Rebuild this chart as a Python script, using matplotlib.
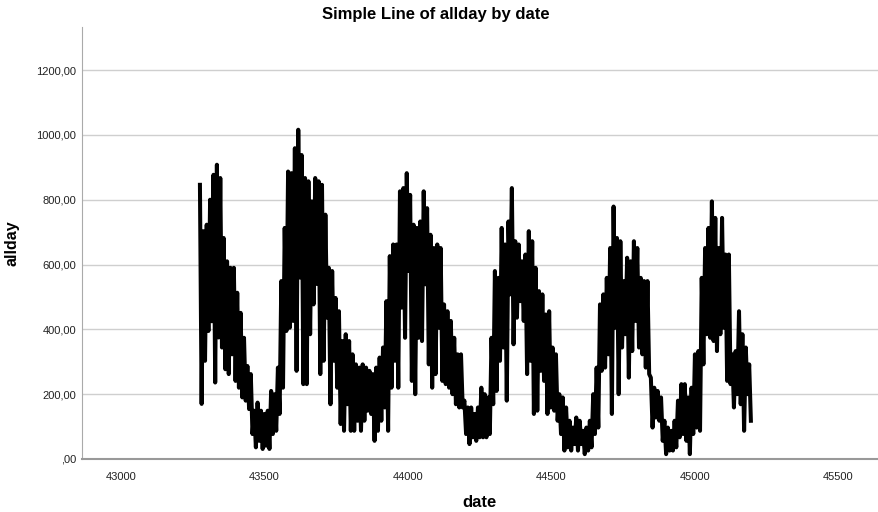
import numpy as np
import matplotlib
matplotlib.use("Agg")
import matplotlib.pyplot as plt
from matplotlib.ticker import FuncFormatter

plt.rcParams['font.family'] = ['Liberation Sans', 'DejaVu Sans']

allday_hi = [
    # 2018/19 season
    846, 703, 723, 800, 877, 908, 867, 682, 610, 590, 590, 513, 451, 374, 287,
    262, 149, 174, 149, 139, 149, 210, 200, 282, 549, 713, 887,
    # 2019/20
    882, 959, 1016, 938, 867, 857, 795, 867, 857, 846, 754, 590, 580, 497, 456,
    364, 385, 364, 323, 292, 282, 292, 282, 272, 262, 282, 313, 344,
    # 2020/21
    487, 626, 662, 662, 826, 836, 882, 815, 723, 713, 733, 826, 774, 692, 651,
    662, 651, 477, 456, 426, 374, 323, 323, 180, 159, 159, 139, 159,
    # 2021/22
    220, 200, 190, 374, 580, 559, 713, 662, 733, 836, 672, 662, 610, 631, 703,
    672, 590, 518, 508, 446, 456, 344, 323, 200, 190, 159, 118, 97,
    # 2022/23
    128, 118, 87, 97, 118, 200, 282, 477, 508, 559, 651, 779, 682, 672, 549,
    621, 610, 672, 651, 559, 549, 549, 251, 220, 210, 190, 118, 97,
    # 2023
    87, 118, 180, 231, 231, 190, 220, 323, 333, 559, 651, 713, 795, 744, 651,
    744, 631, 631, 323, 333, 456, 385, 344, 292,
]
allday_lo = [
    170, 303, 395, 425, 236, 375, 344, 277, 262, 323, 241, 220, 190, 180, 154,
    77, 36, 56, 31, 41, 31, 77, 87, 139, 220, 395, 405,
    426, 272, 560, 231, 231, 385, 477, 540, 262, 303, 436, 169, 303, 220, 108,
    87, 169, 87, 87, 118, 87, 118, 149, 139, 56, 87, 118, 159,
    87, 220, 303, 220, 467, 374, 580, 241, 200, 374, 364, 539, 292, 220, 262,
    405, 241, 231, 220, 200, 169, 159, 159, 77, 46, 67, 56, 67,
    67, 67, 77, 169, 210, 303, 344, 180, 508, 354, 436, 487, 426, 262, 303,
    139, 149, 272, 241, 139, 159, 149, 118, 77, 26, 36, 26, 46,
    26, 46, 15, 26, 36, 77, 97, 272, 282, 323, 139, 405, 200, 344, 385,
    251, 333, 426, 344, 323, 282, 262, 97, 128, 118, 56, 15, 26,
    26, 36, 67, 77, 56, 15, 77, 97, 87, 292, 385, 374, 364, 333, 385,
    405, 241, 231, 159, 200, 169, 87, 200, 118,
]
first_date, last_date = 43275, 45195

values = []
for h, l in zip(allday_hi, allday_lo):
    values += [h, l]
dates = np.linspace(first_date, last_date, len(values))

fig = plt.figure(figsize=(8.79, 5.12), dpi=100)
ax = fig.add_axes([82 / 879, 1 - 459 / 512, 796 / 879, 432 / 512])

ax.plot(dates, values, color='black', lw=2.9)

ax.set_xlim(42864, 45638)
ax.set_ylim(0, 1333)
ax.set_xticks(np.arange(43000, 45501, 500))
ax.set_yticks(np.arange(0, 1201, 200))
ax.yaxis.set_major_formatter(FuncFormatter(
    lambda v, p: ("%.2f" % v).replace('.', ',').lstrip('0') if v == 0 else ("%.2f" % v).replace('.', ',')))
ax.grid(axis='y', color='#cfcfcf', lw=1)
ax.set_axisbelow(True)
ax.tick_params(length=0, labelsize=8, colors='#222222')
ax.tick_params(axis='x', pad=9)
ax.tick_params(axis='y', pad=4)
for s in ['top', 'right']:
    ax.spines[s].set_visible(False)
ax.spines['left'].set_color('#aaaaaa')
ax.spines['bottom'].set_color('#999999')
ax.spines['bottom'].set_linewidth(1.5)

ax.set_ylabel("allday", fontsize=11.5, fontweight='bold', labelpad=12)
ax.set_xlabel("date", fontsize=12, fontweight='bold', labelpad=10)
fig.text(436 / 879, 1 - 14 / 512, "Simple Line of allday by date",
         ha='center', va='center', fontsize=12, fontweight='bold')

plt.savefig("out.png", dpi=100)
